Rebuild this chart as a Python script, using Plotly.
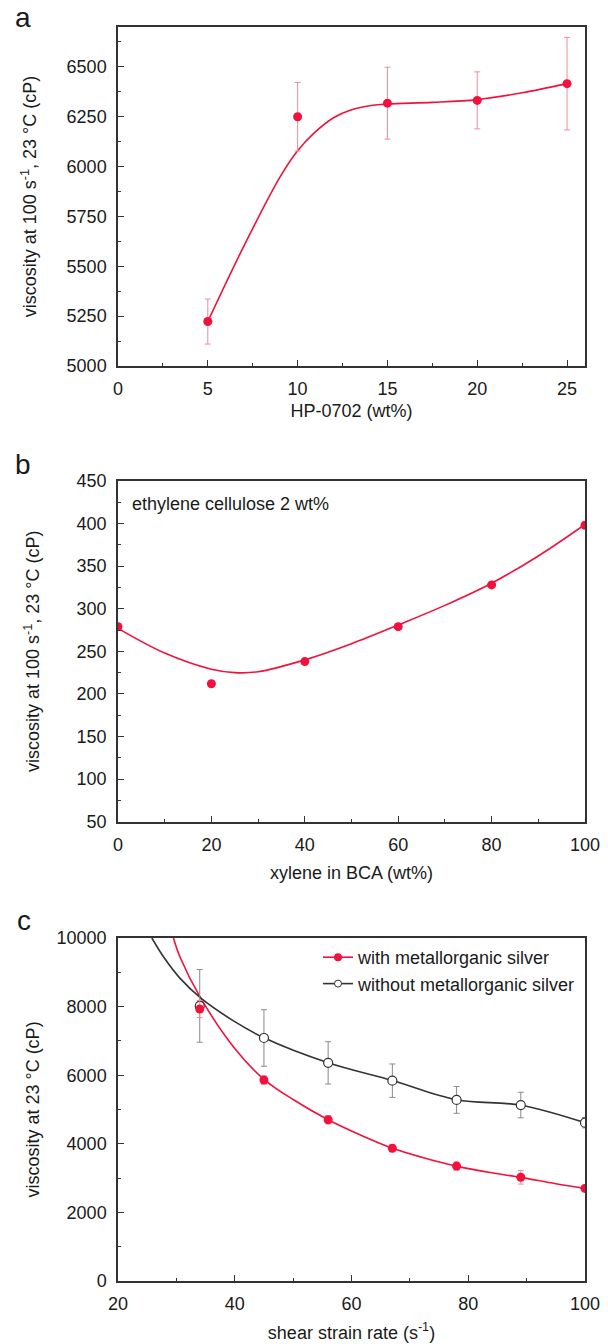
import plotly.graph_objects as go

# ---------------- data ----------------
# panel a
a_x = [5, 10, 15, 20, 25]
a_y = [5223, 6250, 6318, 6332, 6416]
a_err = [113, 172, 180, 143, 232]
a_fit_x = [5, 7, 9, 10, 11, 12, 13, 14, 15, 17.5, 20, 22.5, 25]
a_fit_y = [5223, 5600, 5945, 6080, 6175, 6245, 6285, 6305, 6314, 6322, 6336, 6370, 6416]

# panel b
b_x = [0, 20, 40, 60, 80, 100]
b_y = [279, 212, 238, 279, 328, 398]
b_fit_x = [0, 10, 20, 25, 30, 40, 50, 60, 70, 80, 90, 100]
b_fit_y = [277, 248, 229, 225, 226, 240, 259, 281, 304, 330, 362, 399]

# panel c
c_x = [34, 45, 56, 67, 78, 89, 100]
c_with = [7930, 5860, 4700, 3870, 3350, 3025, 2700]
c_with_err = [250, 120, 120, 100, 120, 200, 100]
c_without = [8020, 7085, 6360, 5840, 5280, 5130, 4615]
c_without_err = [1060, 825, 617, 487, 390, 373, 150]
c_with_fit_x = [29.5, 30.6, 34.2, 40, 45, 50, 56, 62, 67, 72, 78, 84, 89, 95, 100]
c_with_fit_y = [10000, 9455, 8240, 6780, 5880, 5290, 4700, 4220, 3870, 3610, 3350, 3155, 3020, 2835, 2700]
c_without_fit_x = [25.8, 28, 30.6, 34.2, 40, 45, 56, 67, 78, 89, 100]
c_without_fit_y = [10000, 9400, 8830, 8245, 7560, 7090, 6362, 5845, 5285, 5125, 4615]

# ---------------- style ----------------
FONT = "Liberation Sans, Arial, sans-serif"
TXT = "#1a1a1a"
RED = "#f2113c"
RED_ERR = "#f4899c"
DARK = "#333333"
GRAY_ERR = "#8a8a8a"
W, H = 608, 1344

def ydom(top, bottom):
    return [1 - bottom / H, 1 - top / H]

xdom = [118 / W, 585 / W]

fig = go.Figure()
SPL = dict(shape="spline", smoothing=1.0)

# ---- panel a ----
fig.add_trace(go.Scatter(x=a_fit_x, y=a_fit_y, mode="lines", line=dict(color=RED, width=1.6, **SPL),
                         xaxis="x", yaxis="y", showlegend=False, hoverinfo="skip"))
fig.add_trace(go.Scatter(x=a_x, y=a_y, mode="markers", marker=dict(color=RED, size=9),
                         error_y=dict(type="data", array=a_err, color=RED_ERR, thickness=1, width=3),
                         xaxis="x", yaxis="y", showlegend=False))

# ---- panel b ----
fig.add_trace(go.Scatter(x=b_fit_x, y=b_fit_y, mode="lines", line=dict(color=RED, width=1.6, **SPL),
                         xaxis="x2", yaxis="y2", showlegend=False, hoverinfo="skip"))
fig.add_trace(go.Scatter(x=b_x, y=b_y, mode="markers", marker=dict(color=RED, size=9),
                         xaxis="x2", yaxis="y2", showlegend=False))

# ---- panel c ----
fig.add_trace(go.Scatter(x=c_with_fit_x, y=c_with_fit_y, mode="lines", line=dict(color=RED, width=1.6, **SPL),
                         xaxis="x3", yaxis="y3", showlegend=False, hoverinfo="skip"))
fig.add_trace(go.Scatter(x=c_without_fit_x, y=c_without_fit_y, mode="lines", line=dict(color=DARK, width=1.6, **SPL),
                         xaxis="x3", yaxis="y3", showlegend=False, hoverinfo="skip"))
fig.add_trace(go.Scatter(x=c_x, y=c_without, mode="markers",
                         marker=dict(color="white", size=9, line=dict(color=DARK, width=1.2)),
                         error_y=dict(type="data", array=c_without_err, color=GRAY_ERR, thickness=1, width=3),
                         xaxis="x3", yaxis="y3", showlegend=False))
fig.add_trace(go.Scatter(x=c_x, y=c_with, mode="markers", marker=dict(color=RED, size=9),
                         error_y=dict(type="data", array=c_with_err, color=RED_ERR, thickness=1, width=3),
                         xaxis="x3", yaxis="y3", showlegend=False))
# legend entries
fig.add_trace(go.Scatter(x=[None], y=[None], mode="lines+markers", name="with metallorganic silver",
                         line=dict(color=RED, width=1.6), marker=dict(color=RED, size=8),
                         xaxis="x3", yaxis="y3", showlegend=True))
fig.add_trace(go.Scatter(x=[None], y=[None], mode="lines+markers", name="without metallorganic silver",
                         line=dict(color=DARK, width=1.6), marker=dict(color="white", size=7, line=dict(color=DARK, width=1)),
                         xaxis="x3", yaxis="y3", showlegend=True))

def xax(rng, dtick, minor, title, anchor, standoff):
    return dict(domain=xdom, range=rng, dtick=dtick, tick0=0, anchor=anchor,
                showline=True, linecolor="#333", linewidth=1.5, mirror=True,
                ticks="inside", ticklen=6, tickwidth=1.2, tickcolor="#333",
                minor=dict(dtick=minor, ticks="inside", ticklen=3, tickwidth=1, tickcolor="#333"),
                showgrid=False, zeroline=False, automargin=False,
                tickfont=dict(family=FONT, size=18, color=TXT), ticklabelstandoff=6,
                title=dict(text=title, font=dict(family=FONT, size=18, color=TXT), standoff=standoff))

def yax(rng, dtick, minor, title, dom, anchor, standoff):
    return dict(domain=dom, range=rng, dtick=dtick, tick0=0, anchor=anchor,
                showline=True, linecolor="#333", linewidth=1.5, mirror=True,
                ticks="inside", ticklen=6, tickwidth=1.2, tickcolor="#333",
                minor=dict(dtick=minor, ticks="inside", ticklen=3, tickwidth=1, tickcolor="#333"),
                showgrid=False, zeroline=False, automargin=False, tickformat="d",
                tickfont=dict(family=FONT, size=18, color=TXT), ticklabelstandoff=6,
                title=dict(text=title, font=dict(family=FONT, size=18, color=TXT), standoff=standoff))

ytitle_ab = "viscosity at 100 s<sup>-1</sup>, 23 °C (cP)"

fig.update_layout(
    width=W, height=H,
    margin=dict(l=0, r=0, t=0, b=0),
    paper_bgcolor="white", plot_bgcolor="white",
    font=dict(family=FONT, size=18, color=TXT),
    xaxis=xax([0, 26], 5, 2.5, "HP-0702 (wt%)", "y", 6),
    yaxis=yax([5000, 6700], 250, 125, ytitle_ab, ydom(27, 366), "x", 25),
    xaxis2=xax([0, 100], 20, 10, "xylene in BCA (wt%)", "y2", 12),
    yaxis2=yax([50, 450], 50, 25, ytitle_ab, ydom(481, 821.7), "x2", 32),
    xaxis3=xax([20, 100], 20, 10, "shear strain rate (s<sup>-1</sup>)", "y3", 13),
    yaxis3=yax([0, 10000], 2000, 1000, "viscosity at 23 °C (cP)", ydom(938, 1281), "x3", 12),
    legend=dict(x=318 / W, y=1 - 939 / H, xanchor="left", yanchor="top",
                bgcolor="rgba(0,0,0,0)", font=dict(family=FONT, size=18, color=TXT),
                tracegroupgap=0, itemwidth=30),
    showlegend=True,
)

for txt, xp, yp in [("a", 23, 18), ("b", 23, 465), ("c", 24, 921)]:
    fig.add_annotation(text=txt, x=xp / W, y=1 - yp / H, xref="paper", yref="paper",
                       showarrow=False, xanchor="center", yanchor="middle",
                       font=dict(family=FONT, size=28, color=TXT))

fig.add_annotation(text="ethylene cellulose 2 wt%", x=2.5, y=423, xref="x2", yref="y2",
                   showarrow=False, xanchor="left", yanchor="middle",
                   font=dict(family=FONT, size=18, color=TXT))

fig.write_html("out.html")
